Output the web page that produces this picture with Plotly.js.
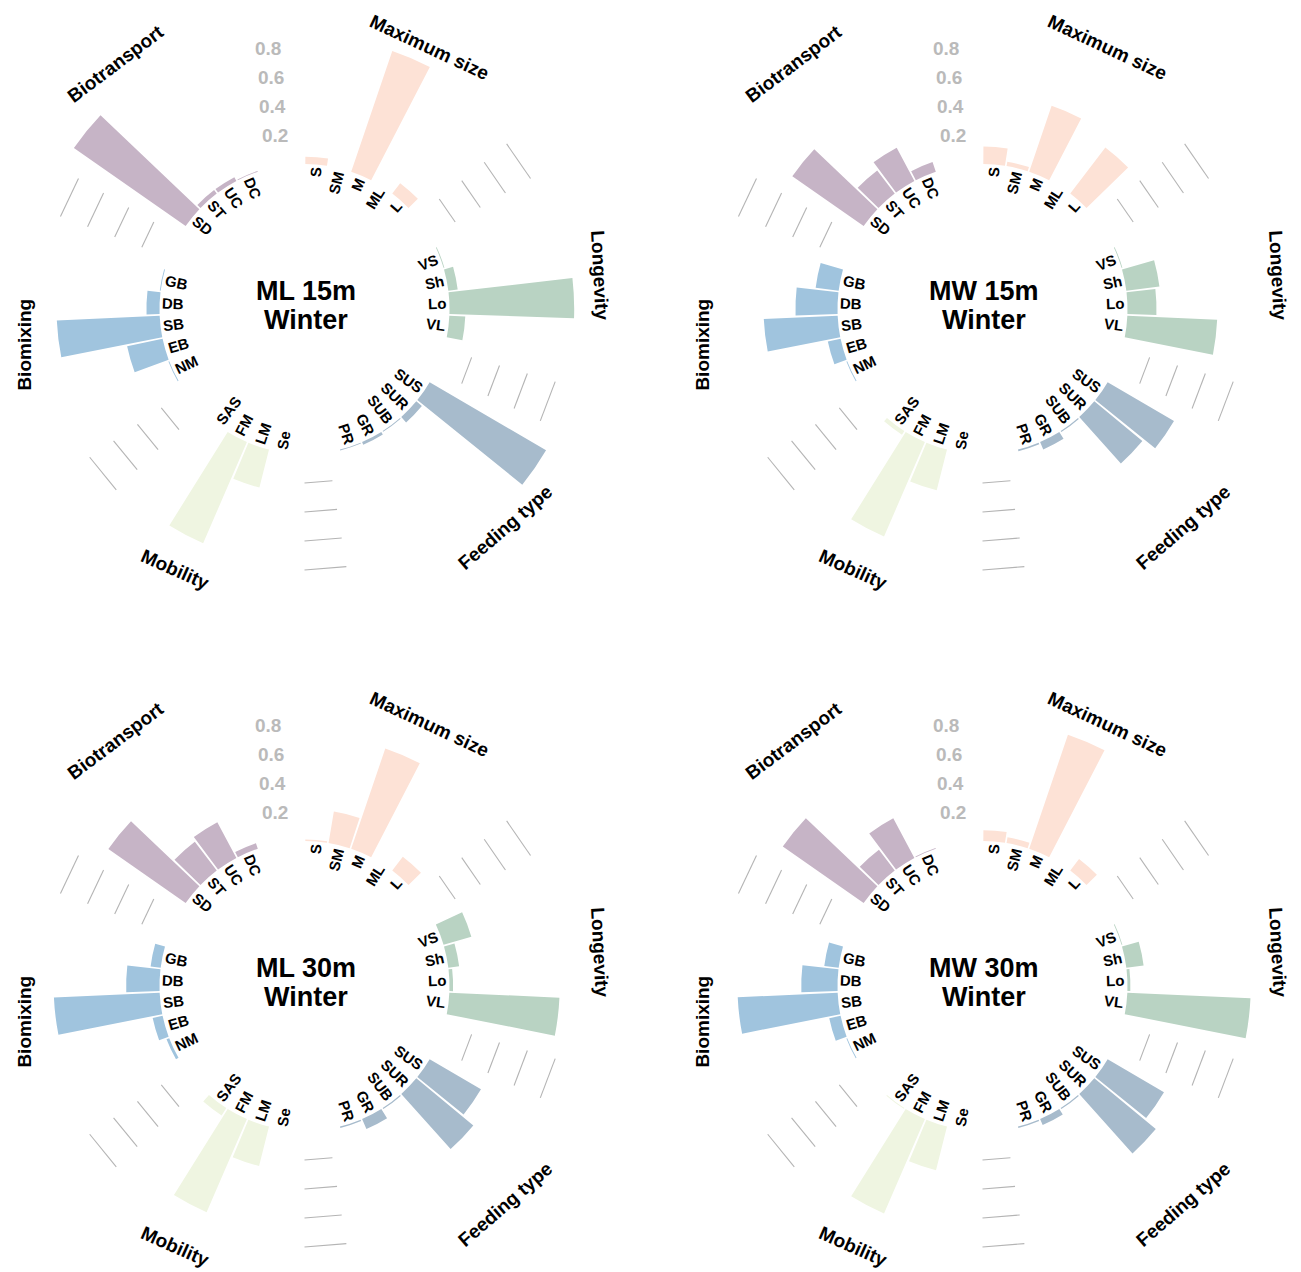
<!DOCTYPE html>
<html>
<head>
<meta charset="utf-8">
<script src="https://cdn.plot.ly/plotly-3.0.1.min.js"></script>
<style>
  html, body { margin: 0; padding: 0; background: #ffffff; }
  #chart { width: 1301px; height: 1272px; }
</style>
</head>
<body>
<div id="chart"></div>
<script>
// ---- Trait groups and modalities, listed clockwise from the top of each wheel ----
const groupNames = ['Maximum size', 'Longevity', 'Feeding type', 'Mobility', 'Biomixing', 'Biotransport'];
const maxSizeCats = ['S', 'SM', 'M', 'ML', 'L'];
const longevityCats = ['VS', 'Sh', 'Lo', 'VL'];
const feedingCats = ['SUS', 'SUR', 'SUB', 'GR', 'PR'];
const mobilityCats = ['Se', 'LM', 'FM', 'SAS'];
const biomixingCats = ['NM', 'EB', 'SB', 'DB', 'GB'];
const biotransportCats = ['SD', 'ST', 'UC', 'DC'];
const radialTicks = [0.2, 0.4, 0.6, 0.8];
const radialTickText = ['0.2', '0.4', '0.6', '0.8'];

// ---- Panel titles ----
const panelSites = ['ML 15m', 'MW 15m', 'ML 30m', 'MW 30m'];
const panelSeasons = ['Winter', 'Winter', 'Winter', 'Winter'];

// ---- Relative trait modality values, ML 15m winter ----
const ml15MaxSize = [0.05, 0, 0.88, 0, 0.09];
const ml15Longevity = [0.006, 0.065, 0.86, 0.11];
const ml15Feeding = [0.93, 0.05, 0.006, 0.02, 0.006];
const ml15Mobility = [0, 0.27, 0.76, 0];
const ml15Biomixing = [0.006, 0.25, 0.71, 0.09, 0.006];
const ml15Biotransport = [0.94, 0.03, 0.03, 0.006];

// ---- MW 15m winter ----
const mw15MaxSize = [0.12, 0.03, 0.48, 0, 0.40];
const mw15Longevity = [0.006, 0.23, 0.20, 0.62];
const mw15Feeding = [0.53, 0.43, 0.008, 0.055, 0.012];
const mw15Mobility = [0, 0.29, 0.71, 0.03];
const mw15Biomixing = [0.006, 0.09, 0.51, 0.29, 0.16];
const mw15Biotransport = [0.60, 0.20, 0.26, 0.07];

// ---- ML 30m winter ----
const ml30MaxSize = [0.01, 0.22, 0.73, 0, 0.12];
const ml30Longevity = [0.20, 0.075, 0.025, 0.76];
const ml30Feeding = [0.41, 0.51, 0.008, 0.075, 0.01];
const ml30Mobility = [0, 0.28, 0.70, 0.06];
const ml30Biomixing = [0.02, 0.07, 0.73, 0.23, 0.07];
const ml30Biotransport = [0.65, 0.25, 0.28, 0.04];

// ---- MW 30m winter ----
const mw30MaxSize = [0.075, 0.04, 0.83, 0, 0.10];
const mw30Longevity = [0.006, 0.12, 0.02, 0.85];
const mw30Feeding = [0.45, 0.55, 0.008, 0.045, 0.01];
const mw30Mobility = [0, 0.31, 0.71, 0.006];
const mw30Biomixing = [0.006, 0.08, 0.69, 0.25, 0.10];
const mw30Biotransport = [0.68, 0.18, 0.31, 0.006];

// ---- Styling ----
const groupColors = ['#fde2d6', '#b9d3c3', '#a7bbcc', '#eff5e1', '#a0c4de', '#c6b4c6'];
const FONT = '"Liberation Sans", Arial, Helvetica, sans-serif';
const W = 1301, H = 1272;
const unitPx = 145;          // pixel length of one unit on the radial axis
const rMin = -1, rMax = 0.96; // inner hole is one unit deep
const emptySlots = 2;        // blank slots between trait groups
const barFill = 0.93;        // fraction of a slot covered by a bar
const labelSize = 15, titleSize = 19, tickSize = 19, centreSize = 27;
const panelCenters = [[304.5, 309], [982.5, 309], [304.5, 986], [982.5, 986]];
// title placement: [angle (deg, clockwise from top), radius px, text angle]
const titlePlacement = [[25.6, 290, 25], [83.4, 297, 87], [137.5, 297, -41],
                        [206.4, 291, 24], [262.7, 282, -90], [322.5, 310, -37]];

const groupCats = [maxSizeCats, longevityCats, feedingCats, mobilityCats, biomixingCats, biotransportCats];
const panelValues = [
  [ml15MaxSize, ml15Longevity, ml15Feeding, ml15Mobility, ml15Biomixing, ml15Biotransport],
  [mw15MaxSize, mw15Longevity, mw15Feeding, mw15Mobility, mw15Biomixing, mw15Biotransport],
  [ml30MaxSize, ml30Longevity, ml30Feeding, ml30Mobility, ml30Biomixing, ml30Biotransport],
  [mw30MaxSize, mw30Longevity, mw30Feeding, mw30Mobility, mw30Biomixing, mw30Biotransport]
];

// ---- Slot layout around the wheel ----
const nSlots = groupCats.reduce((s, g) => s + g.length + emptySlots, 0);
const step = 360 / nSlots;
const slotTheta = i => (i + 0.5) * step;
const groupSlots = [];   // theta of each bar, per group
const gapSlots = [];     // theta of the blank slots after each group
let slot = 0;
groupCats.forEach(cats => {
  groupSlots.push(cats.map((_, j) => slotTheta(slot + j)));
  slot += cats.length;
  gapSlots.push([slotTheta(slot), slotTheta(slot + emptySlots - 1)]);
  slot += emptySlots;
});

// ---- Helpers ----
const R = (rMax - rMin) * unitPx;
function toPaper(c, thetaDeg, rPx) {
  const t = thetaDeg * Math.PI / 180;
  return { x: (c[0] + rPx * Math.sin(t)) / W, y: 1 - (c[1] - rPx * Math.cos(t)) / H };
}
const measureCtx = document.createElement('canvas').getContext('2d');
function textWidth(txt, size) {
  measureCtx.font = 'bold ' + size + 'px "Liberation Sans", Arial, sans-serif';
  return measureCtx.measureText(txt).width;
}

const data = [];
const annotations = [];
const layout = {
  width: W, height: H,
  margin: { l: 0, r: 0, t: 0, b: 0 },
  paper_bgcolor: '#ffffff',
  showlegend: false,
  font: { family: FONT, color: '#000000' },
  annotations: annotations
};

panelCenters.forEach((c, p) => {
  const key = p === 0 ? 'polar' : 'polar' + (p + 1);
  layout[key] = {
    domain: { x: [(c[0] - R) / W, (c[0] + R) / W], y: [1 - (c[1] + R) / H, 1 - (c[1] - R) / H] },
    bgcolor: 'rgba(0,0,0,0)',
    radialaxis: { range: [rMin, rMax], showgrid: false, showline: false, showticklabels: false, ticks: '' },
    angularaxis: { rotation: 90, direction: 'clockwise', thetaunit: 'degrees',
                   showgrid: false, showline: false, showticklabels: false, ticks: '' }
  };

  // grey reference arcs in the blank slots (all gaps except the one carrying the tick labels)
  const arcTheta = [], arcR = [];
  gapSlots.slice(0, gapSlots.length - 1).forEach(g => {
    radialTicks.forEach(v => {
      arcTheta.push(g[0], g[1], null);
      arcR.push(v, v, null);
    });
  });
  data.push({
    type: 'scatterpolar', subplot: key, mode: 'lines',
    theta: arcTheta, r: arcR, connectgaps: false,
    line: { color: '#b4b4b4', width: 1.1 }, hoverinfo: 'skip'
  });

  // bars, one trace per trait group
  groupCats.forEach((cats, g) => {
    data.push({
      type: 'barpolar', subplot: key,
      theta: groupSlots[g], r: panelValues[p][g], text: cats,
      width: step * barFill,
      marker: { color: groupColors[g], line: { width: 0 } },
      hovertemplate: groupNames[g] + ' %{text}: %{r}<extra></extra>'
    });

    // modality labels, radial, sitting just inside the bar base
    cats.forEach((lab, j) => {
      const th = groupSlots[g][j];
      const w = textWidth(lab, labelSize);
      const pos = toPaper(c, th, unitPx - 3 - w / 2);
      annotations.push({
        xref: 'paper', yref: 'paper', x: pos.x, y: pos.y,
        xanchor: 'center', yanchor: 'middle', showarrow: false,
        text: '<b>' + lab + '</b>', textangle: th < 180 ? th - 90 : th - 270,
        font: { family: FONT, size: labelSize, color: '#000000' }
      });
    });

    // group title outside the wheel
    const tp = titlePlacement[g];
    const tpos = toPaper(c, tp[0], tp[1]);
    annotations.push({
      xref: 'paper', yref: 'paper', x: tpos.x, y: tpos.y,
      xanchor: 'center', yanchor: 'middle', showarrow: false,
      text: '<b>' + groupNames[g] + '</b>', textangle: tp[2],
      font: { family: FONT, size: titleSize, color: '#000000' }
    });
  });

  // radial scale labels in the last blank slot
  const tickTheta = gapSlots[gapSlots.length - 1][1];
  radialTicks.forEach((v, k) => {
    const pos = toPaper(c, tickTheta, (v - rMin) * unitPx);
    annotations.push({
      xref: 'paper', yref: 'paper', x: pos.x, y: pos.y,
      xanchor: 'right', yanchor: 'middle', showarrow: false,
      text: '<b>' + radialTickText[k] + '</b>',
      font: { family: FONT, size: tickSize, color: '#bababa' }
    });
  });

  // site / season in the centre
  [panelSites[p], panelSeasons[p]].forEach((t, k) => {
    annotations.push({
      xref: 'paper', yref: 'paper', x: (c[0] + 1.5) / W, y: 1 - (c[1] + (k === 0 ? -18.5 : 11)) / H,
      xanchor: 'center', yanchor: 'middle', showarrow: false,
      text: '<b>' + t + '</b>',
      font: { family: FONT, size: centreSize, color: '#000000' }
    });
  });
});

Plotly.newPlot('chart', data, layout, { displayModeBar: false, responsive: false });
</script>
</body>
</html>
